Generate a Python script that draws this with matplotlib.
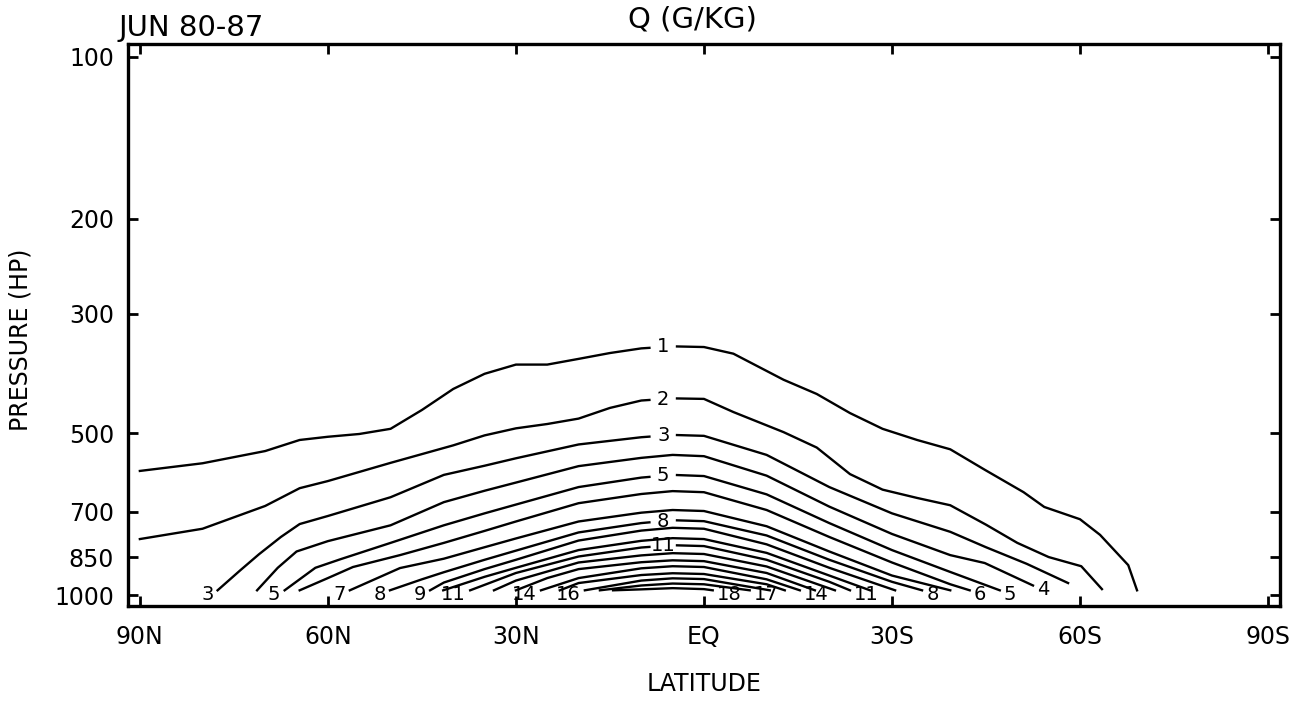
import numpy as np
import matplotlib
matplotlib.use('Agg')
import matplotlib.pyplot as plt

# Q (g/kg), June 1980-87, zonal mean; each contour as (lat, pressure hPa)
levels = list(range(1, 19))
line_lat = [
    [90, 80, 70, 64.5, 60, 55, 50, 45, 40, 35, 30, 25, 20, 15, 10, 5, 0, -4.7, -12.7, -18, -23.3, -28.5, -34, -39.3, -44.8, -51, -54.3, -60, -63.2, -67.7, -69.1],
    [90, 80, 70, 64.5, 60, 50, 40, 35, 30, 25, 20, 15, 10, 5, 0, -4.7, -12.7, -18, -23.3, -28.5, -34, -39.3, -45, -50, -55, -60.2, -63.5],
    [77.6, 74, 71, 67.5, 64.5, 60, 50, 41.5, 35, 30, 20, 10, 5, 0, -10, -20, -30, -39.3, -45, -51.5, -58.1],
    [71.3, 68, 65, 60, 50, 41.5, 35, 30, 20, 10, 5, 0, -10, -20, -30, -39.3, -44.8, -52.5],
    [66.9, 62, 58, 50, 41.5, 35, 30, 20, 10, 5, 0, -10, -20, -30, -39.3, -47.2],
    [64.5, 60, 56, 48.5, 41.5, 35, 30, 20, 10, 5, 0, -10, -20, -30, -39.3, -42.4],
    [56.5, 48.5, 41.5, 35, 30, 20, 10, 5, 0, -10, -20, -30, -39.3],
    [50.1, 45, 41.5, 35, 30, 20, 10, 5, 0, -10, -20, -30, -34.8],
    [43.7, 41.5, 35, 30, 20, 10, 5, 0, -10, -20, -30.5],
    [41.6, 35, 30, 20, 10, 5, 0, -10, -20, -26.5],
    [37.3, 30, 20, 10, 5, 0, -10, -20, -23.3],
    [33.5, 30, 20, 10, 5, 0, -10, -20.9],
    [30, 25, 20, 10, 5, 0, -10, -17.7],
    [26, 20, 10, 5, 0, -10, -15.3],
    [23, 20, 10, 5, 0, -10, -12.9],
    [19, 10, 5, 0, -10.5],
    [16.6, 10, 5, 0, -7.3],
    [14.5, 10, 5, 0, -1.4],
]
line_p = [
    [588, 569, 540, 515, 508, 502, 491, 453, 414, 388, 373, 373, 364, 355, 348, 345, 346, 356, 398, 423, 459, 491, 515, 536, 585, 644, 686, 723, 773, 880, 980],
    [787, 753, 683, 633, 614, 568, 527, 505, 490, 481, 470, 449, 435, 431, 432, 457, 498, 532, 596, 637, 660, 681, 740, 800, 850, 884, 975],
    [980, 900, 840, 780, 738, 713, 658, 598, 575, 557, 525, 509, 504, 506, 549, 630, 705, 763, 815, 875, 950],
    [980, 890, 830, 794, 742, 672, 640, 618, 576, 556, 549, 552, 600, 685, 770, 843, 872, 960],
    [980, 890, 858, 800, 742, 705, 679, 630, 605, 598, 601, 650, 735, 825, 906, 980],
    [980, 930, 887, 843, 800, 760, 730, 675, 649, 641, 644, 695, 780, 870, 955, 980],
    [980, 891, 856, 815, 785, 730, 703, 695, 698, 745, 830, 920, 980],
    [980, 935, 907, 860, 827, 765, 735, 726, 729, 775, 860, 945, 980],
    [980, 948, 895, 860, 792, 759, 750, 753, 805, 890, 980],
    [980, 925, 890, 825, 793, 784, 787, 835, 920, 980],
    [980, 910, 848, 816, 808, 811, 860, 945, 980],
    [980, 940, 870, 844, 836, 839, 885, 980],
    [980, 930, 895, 869, 862, 865, 910, 980],
    [980, 930, 892, 884, 887, 935, 980],
    [980, 950, 918, 911, 914, 955, 980],
    [980, 940, 931, 934, 980],
    [980, 960, 952, 955, 980],
    [980, 976, 971, 975, 980],
]
label_mid = [1, 2, 3, 5, 8, 11]
label_n = [3, 5, 7, 8, 9, 11, 14, 16]
label_s = [4, 5, 6, 8, 11, 14, 17, 18]
mid_lat = 6.5

lat_ticks = [90, 60, 30, 0, -30, -60, -90]
lat_labels = ['90N', '60N', '30N', 'EQ', '30S', '60S', '90S']
p_ticks = [100, 200, 300, 500, 700, 850, 1000]

plt.rcParams['font.family'] = 'DejaVu Sans'
fig = plt.figure(figsize=(13.03, 7.03), dpi=100)
ax = fig.add_axes([0.0982, 0.138, 0.8841, 0.7994])

gap = 2.2
for lev, la, pp in zip(levels, line_lat, line_p):
    la = np.array(la, float)
    pp = np.array(pp, float)
    if lev in label_mid:
        # leave a gap in the line for the label
        pa = np.interp(mid_lat + gap, la[::-1], pp[::-1])
        pb = np.interp(mid_lat - gap, la[::-1], pp[::-1])
        pm = np.interp(mid_lat, la[::-1], pp[::-1])
        left = la > mid_lat + gap
        right = la < mid_lat - gap
        ax.plot(np.append(la[left], mid_lat + gap), np.append(pp[left], pa), color='k', lw=1.7)
        ax.plot(np.insert(la[right], 0, mid_lat - gap), np.insert(pp[right], 0, pb), color='k', lw=1.7)
        ax.text(mid_lat, pm, str(lev), ha='center', va='center', fontsize=14)
    else:
        ax.plot(la, pp, color='k', lw=1.7)
    if lev in label_n:
        ax.annotate(str(lev), xy=(la[0], pp[0]), xytext=(-3, -3), textcoords='offset points',
                    ha='right', va='center', fontsize=14)
    if lev in label_s:
        ax.annotate(str(lev), xy=(la[-1], pp[-1]), xytext=(3, -3), textcoords='offset points',
                    ha='left', va='center', fontsize=14)

ax.set_yscale('log')
ax.set_ylim(1048, 94.6)
ax.set_xlim(91.9, -91.9)
ax.set_yticks(p_ticks)
ax.set_yticklabels([str(p) for p in p_ticks])
ax.minorticks_off()
ax.set_xticks(lat_ticks)
ax.set_xticklabels(lat_labels)
ax.tick_params(direction='in', length=7, width=2, top=True, right=True, labelsize=17, pad=10)
ax.tick_params(axis='x', pad=14)
for s in ax.spines.values():
    s.set_linewidth(2.4)

ax.set_xlabel('LATITUDE', fontsize=17, labelpad=16)
ax.set_ylabel('PRESSURE (HP)', fontsize=17)
ax.yaxis.set_label_coords(-0.083, 0.473)
ax.text(-0.008, 1.015, 'JUN 80-87', transform=ax.transAxes, fontsize=21, ha='left', va='baseline')
ax.text(0.49, 1.030, 'Q (G/KG)', transform=ax.transAxes, fontsize=21, ha='center', va='baseline')

fig.savefig('out.png', dpi=100)
